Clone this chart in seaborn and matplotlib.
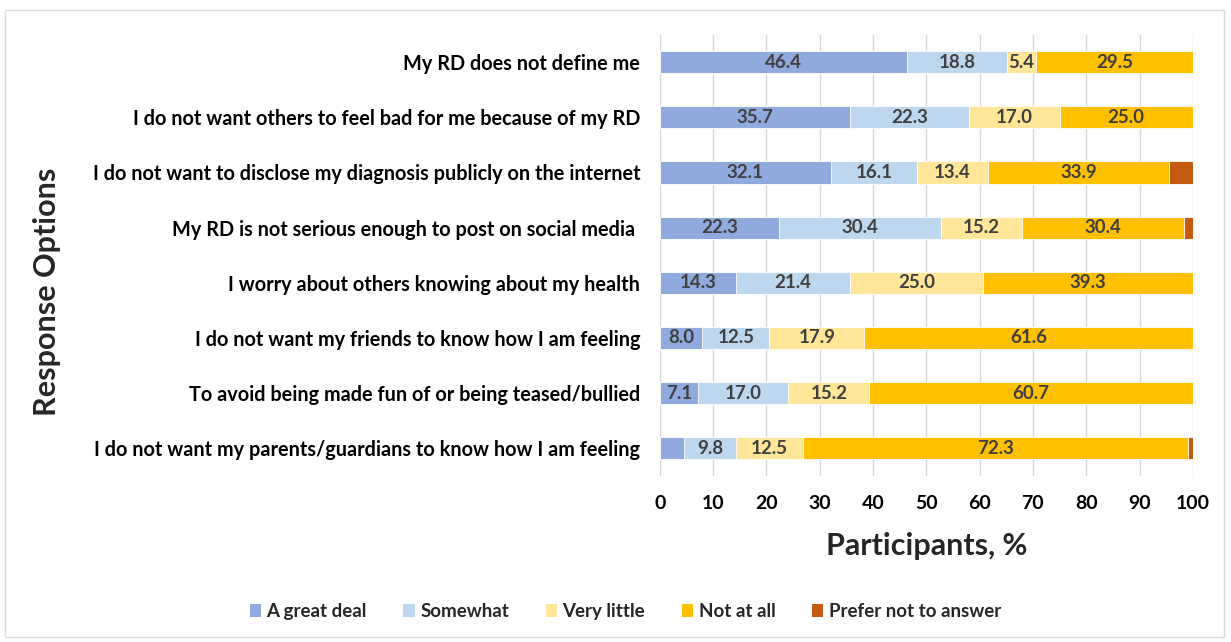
import matplotlib
matplotlib.use("Agg")
import matplotlib.pyplot as plt
import seaborn as sns
import pandas as pd
import numpy as np
from matplotlib.patches import Rectangle, Patch

categories = [
    "My RD does not define me",
    "I do not want others to feel bad for me because of my RD",
    "I do not want to disclose my diagnosis publicly on the internet",
    "My RD is not serious enough to post on social media ",
    "I worry about others knowing about my health",
    "I do not want my friends to know how I am feeling",
    "To avoid being made fun of or being teased/bullied",
    "I do not want my parents/guardians to know how I am feeling",
]
great_deal = [46.4, 35.7, 32.1, 22.3, 14.3, 8.0, 7.1, 4.5]
somewhat = [18.8, 22.3, 16.1, 30.4, 21.4, 12.5, 17.0, 9.8]
very_little = [5.4, 17.0, 13.4, 15.2, 25.0, 17.9, 15.2, 12.5]
not_at_all = [29.5, 25.0, 33.9, 30.4, 39.3, 61.6, 60.7, 72.3]
prefer_not = [0.0, 0.0, 4.5, 1.8, 0.0, 0.0, 0.0, 0.9]
series_names = ["A great deal", "Somewhat", "Very little", "Not at all", "Prefer not to answer"]
colors = ["#8FAADC", "#BDD7EE", "#FFE699", "#FFC000", "#C55A11"]
# whether the "A great deal" value is printed inside its bar
show_first = [True, True, True, True, True, True, True, False]

sns.set_theme(style="white")
plt.rcParams["font.family"] = ["Lato", "DejaVu Sans"]

series = [great_deal, somewhat, very_little, not_at_all, prefer_not]
data = np.array(series)
cum = np.cumsum(data, axis=0)

fig = plt.figure(figsize=(12.31, 6.42), dpi=100)
ax = fig.add_axes([0.536, 0.259, 0.433, 0.687])

# draw cumulative bars from back to front
for i in range(len(series) - 1, -1, -1):
    df = pd.DataFrame({"cat": categories, "val": cum[i]})
    sns.barplot(data=df, x="val", y="cat", orient="h", color=colors[i],
                saturation=1, width=0.4, ax=ax, edgecolor="white", linewidth=0.6,
                order=categories)

# value labels
for i in range(4):
    left = cum[i] - data[i]
    for j, v in enumerate(data[i]):
        if i == 0 and not show_first[j]:
            continue
        ax.text(left[j] + v / 2, j, f"{v:.1f}", ha="center", va="center",
                fontsize=13.5, fontweight="bold", color="#404040")

ax.set_xlim(0, 100)
ax.set_xticks(np.arange(0, 101, 10))
ax.xaxis.grid(True, color="#D9D9D9", linewidth=1)
ax.set_axisbelow(True)
for s in ax.spines.values():
    s.set_visible(False)
ax.tick_params(axis="x", labelsize=14, pad=14, length=0)
ax.tick_params(axis="y", labelsize=14.3, length=0, pad=14)
for lab in ax.get_xticklabels() + ax.get_yticklabels():
    lab.set_fontweight("bold")
    lab.set_color("black")
ax.set_xlabel("Participants, %", fontsize=22, fontweight="bold", labelpad=14)
ax.set_ylabel("")
fig.text(0.038, 0.545, "Response Options", rotation=90, ha="center", va="center",
         fontsize=22, fontweight="bold")

handles = [Patch(facecolor=c, edgecolor="none") for c in colors]
fig.legend(handles, series_names, loc="center", bbox_to_anchor=(0.508, 0.047),
           ncol=5, frameon=False, handlelength=0.6, handleheight=0.7,
           handletextpad=0.3, columnspacing=1.95, prop={"weight": "bold", "size": 13.5})

fig.patches.append(Rectangle((0.004, 0.008), 0.99, 0.976, transform=fig.transFigure,
                             fill=False, edgecolor="#D9D9D9", linewidth=1))

fig.savefig("out.png", dpi=100)
